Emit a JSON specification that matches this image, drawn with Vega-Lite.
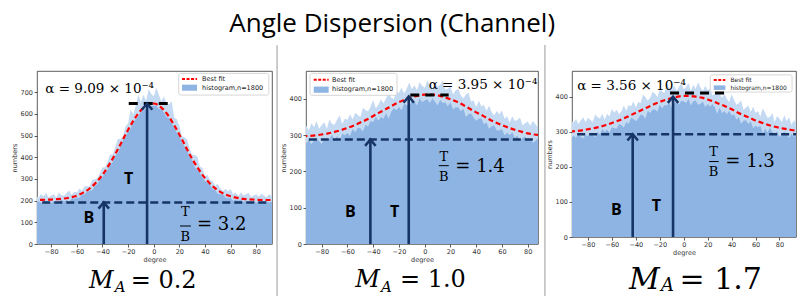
{
  "$schema": "https://vega.github.io/schema/vega-lite/v6.json",
  "background": "white",
  "padding": {"left": 10, "top": 11, "right": 0, "bottom": 0},
  "title": {"text": "Angle Dispersion (Channel)", "font": "Open Sans", "fontSize": 26, "fontWeight": "normal", "color": "black", "anchor": "middle", "offset": 7, "dx": -12},
  "spacing": 34,
  "bounds": "flush",
  "datasets": {
    "h1": [
      {"x":-94,"hi":217,"lo":195},{"x":-92,"hi":225,"lo":191},{"x":-90,"hi":212,"lo":197},{"x":-88,"hi":231,"lo":189},{"x":-86,"hi":220,"lo":195},
      {"x":-84,"hi":235,"lo":199},{"x":-82,"hi":215,"lo":193},{"x":-80,"hi":224,"lo":188},{"x":-78,"hi":230,"lo":198},{"x":-76,"hi":214,"lo":193},
      {"x":-74,"hi":236,"lo":197},{"x":-72,"hi":225,"lo":204},{"x":-70,"hi":223,"lo":196},{"x":-68,"hi":235,"lo":203},{"x":-66,"hi":247,"lo":195},
      {"x":-64,"hi":226,"lo":210},{"x":-62,"hi":241,"lo":209},{"x":-60,"hi":238,"lo":214},{"x":-58,"hi":256,"lo":212},{"x":-56,"hi":246,"lo":229},
      {"x":-54,"hi":266,"lo":228},{"x":-52,"hi":266,"lo":241},{"x":-50,"hi":265,"lo":246},{"x":-48,"hi":296,"lo":248},{"x":-46,"hi":297,"lo":269},
      {"x":-44,"hi":304,"lo":276},{"x":-42,"hi":327,"lo":298},{"x":-40,"hi":354,"lo":308},{"x":-38,"hi":353,"lo":332},{"x":-36,"hi":380,"lo":341},
      {"x":-34,"hi":413,"lo":364},{"x":-32,"hi":413,"lo":378},{"x":-30,"hi":448,"lo":408},{"x":-28,"hi":485,"lo":417},{"x":-26,"hi":483,"lo":449},
      {"x":-24,"hi":497,"lo":477},{"x":-22,"hi":543,"lo":493},{"x":-20,"hi":556,"lo":519},{"x":-18,"hi":620,"lo":532},{"x":-16,"hi":598,"lo":562},
      {"x":-14,"hi":639,"lo":576},{"x":-12,"hi":688,"lo":589},{"x":-10,"hi":655,"lo":610},{"x":-8,"hi":689,"lo":620},{"x":-6,"hi":660,"lo":621},
      {"x":-4,"hi":714,"lo":639},{"x":-2,"hi":693,"lo":635},{"x":0,"hi":680,"lo":638},{"x":2,"hi":722,"lo":636},{"x":4,"hi":688,"lo":623},
      {"x":6,"hi":657,"lo":623},{"x":8,"hi":682,"lo":605},{"x":10,"hi":643,"lo":585},{"x":12,"hi":645,"lo":580},{"x":14,"hi":658,"lo":557},
      {"x":16,"hi":583,"lo":539},{"x":18,"hi":575,"lo":513},{"x":20,"hi":545,"lo":500},{"x":22,"hi":497,"lo":466},{"x":24,"hi":492,"lo":449},
      {"x":26,"hi":482,"lo":429},{"x":28,"hi":441,"lo":402},{"x":30,"hi":411,"lo":387},{"x":32,"hi":411,"lo":354},{"x":34,"hi":404,"lo":343},
      {"x":36,"hi":358,"lo":329},{"x":38,"hi":351,"lo":307},{"x":40,"hi":313,"lo":289},{"x":42,"hi":318,"lo":281},{"x":44,"hi":295,"lo":272},
      {"x":46,"hi":290,"lo":252},{"x":48,"hi":269,"lo":248},{"x":50,"hi":277,"lo":231},{"x":52,"hi":256,"lo":230},{"x":54,"hi":245,"lo":228},
      {"x":56,"hi":254,"lo":215},{"x":58,"hi":243,"lo":212},{"x":60,"hi":252,"lo":213},{"x":62,"hi":230,"lo":200},{"x":64,"hi":237,"lo":205},
      {"x":66,"hi":221,"lo":199},{"x":68,"hi":237,"lo":205},{"x":70,"hi":225,"lo":194},{"x":72,"hi":229,"lo":199},{"x":74,"hi":236,"lo":188},
      {"x":76,"hi":217,"lo":195},{"x":78,"hi":224,"lo":198},{"x":80,"hi":229,"lo":191},{"x":82,"hi":219,"lo":195},{"x":84,"hi":232,"lo":189},
      {"x":86,"hi":224,"lo":192},{"x":88,"hi":216,"lo":197},{"x":90,"hi":229,"lo":191},{"x":92,"hi":221,"lo":195},{"x":94,"hi":227,"lo":189}
    ],
    "h2": [
      {"x":-94,"hi":317,"lo":284},{"x":-92,"hi":326,"lo":278},{"x":-90,"hi":313,"lo":288},{"x":-88,"hi":333,"lo":275},{"x":-86,"hi":322,"lo":285},
      {"x":-84,"hi":339,"lo":292},{"x":-82,"hi":318,"lo":283},{"x":-80,"hi":328,"lo":276},{"x":-78,"hi":336,"lo":292},{"x":-76,"hi":318,"lo":284},
      {"x":-74,"hi":343,"lo":290},{"x":-72,"hi":331,"lo":301},{"x":-70,"hi":329,"lo":287},{"x":-68,"hi":343,"lo":298},{"x":-66,"hi":354,"lo":284},
      {"x":-64,"hi":331,"lo":305},{"x":-62,"hi":346,"lo":300},{"x":-60,"hi":342,"lo":306},{"x":-58,"hi":358,"lo":298},{"x":-56,"hi":344,"lo":317},
      {"x":-54,"hi":362,"lo":309},{"x":-52,"hi":356,"lo":320},{"x":-50,"hi":350,"lo":319},{"x":-48,"hi":376,"lo":310},{"x":-46,"hi":369,"lo":329},
      {"x":-44,"hi":366,"lo":323},{"x":-42,"hi":379,"lo":339},{"x":-40,"hi":397,"lo":336},{"x":-38,"hi":374,"lo":350},{"x":-36,"hi":384,"lo":340},
      {"x":-34,"hi":399,"lo":350},{"x":-32,"hi":388,"lo":345},{"x":-30,"hi":401,"lo":361},{"x":-28,"hi":417,"lo":345},{"x":-26,"hi":403,"lo":364},
      {"x":-24,"hi":400,"lo":375},{"x":-22,"hi":420,"lo":369},{"x":-20,"hi":417,"lo":378},{"x":-18,"hi":431,"lo":369},{"x":-16,"hi":415,"lo":387},
      {"x":-14,"hi":428,"lo":383},{"x":-12,"hi":445,"lo":381},{"x":-10,"hi":427,"lo":394},{"x":-8,"hi":438,"lo":393},{"x":-6,"hi":424,"lo":382},
      {"x":-4,"hi":446,"lo":402},{"x":-2,"hi":436,"lo":391},{"x":0,"hi":431,"lo":396},{"x":2,"hi":451,"lo":399},{"x":4,"hi":439,"lo":389},
      {"x":6,"hi":429,"lo":402},{"x":8,"hi":445,"lo":392},{"x":10,"hi":433,"lo":382},{"x":12,"hi":439,"lo":397},{"x":14,"hi":451,"lo":389},
      {"x":16,"hi":425,"lo":390},{"x":18,"hi":428,"lo":380},{"x":20,"hi":434,"lo":391},{"x":22,"hi":412,"lo":371},{"x":24,"hi":423,"lo":377},
      {"x":26,"hi":428,"lo":377},{"x":28,"hi":410,"lo":366},{"x":30,"hi":401,"lo":373},{"x":32,"hi":412,"lo":350},{"x":34,"hi":417,"lo":358},
      {"x":36,"hi":393,"lo":360},{"x":38,"hi":396,"lo":348},{"x":40,"hi":378,"lo":340},{"x":42,"hi":395,"lo":345},{"x":44,"hi":380,"lo":347},
      {"x":46,"hi":383,"lo":330},{"x":48,"hi":367,"lo":335},{"x":50,"hi":381,"lo":318},{"x":52,"hi":363,"lo":325},{"x":54,"hi":354,"lo":327},
      {"x":56,"hi":367,"lo":313},{"x":58,"hi":358,"lo":313},{"x":60,"hi":368,"lo":317},{"x":62,"hi":345,"lo":300},{"x":64,"hi":352,"lo":307},
      {"x":66,"hi":335,"lo":300},{"x":68,"hi":352,"lo":308},{"x":70,"hi":339,"lo":293},{"x":72,"hi":342,"lo":299},{"x":74,"hi":349,"lo":283},
      {"x":76,"hi":327,"lo":293},{"x":78,"hi":333,"lo":296},{"x":80,"hi":338,"lo":285},{"x":82,"hi":326,"lo":290},{"x":84,"hi":339,"lo":279},
      {"x":86,"hi":330,"lo":284},{"x":88,"hi":320,"lo":291},{"x":90,"hi":334,"lo":281},{"x":92,"hi":324,"lo":286},{"x":94,"hi":330,"lo":276}
    ],
    "h3": [
      {"x":-94,"hi":332,"lo":279},{"x":-92,"hi":326,"lo":289},{"x":-90,"hi":336,"lo":283},{"x":-88,"hi":322,"lo":293},{"x":-86,"hi":332,"lo":286},
      {"x":-84,"hi":341,"lo":281},{"x":-82,"hi":327,"lo":291},{"x":-80,"hi":340,"lo":287},{"x":-78,"hi":334,"lo":297},{"x":-76,"hi":328,"lo":294},
      {"x":-74,"hi":349,"lo":283},{"x":-72,"hi":342,"lo":300},{"x":-70,"hi":338,"lo":292},{"x":-68,"hi":351,"lo":308},{"x":-66,"hi":334,"lo":299},
      {"x":-64,"hi":351,"lo":306},{"x":-62,"hi":343,"lo":297},{"x":-60,"hi":365,"lo":313},{"x":-58,"hi":354,"lo":310},{"x":-56,"hi":363,"lo":309},
      {"x":-54,"hi":350,"lo":322},{"x":-52,"hi":358,"lo":319},{"x":-50,"hi":375,"lo":312},{"x":-48,"hi":360,"lo":328},{"x":-46,"hi":376,"lo":322},
      {"x":-44,"hi":372,"lo":339},{"x":-42,"hi":386,"lo":336},{"x":-40,"hi":369,"lo":330},{"x":-38,"hi":385,"lo":338},{"x":-36,"hi":382,"lo":349},
      {"x":-34,"hi":405,"lo":346},{"x":-32,"hi":399,"lo":337},{"x":-30,"hi":388,"lo":360},{"x":-28,"hi":397,"lo":353},{"x":-26,"hi":414,"lo":363},
      {"x":-24,"hi":409,"lo":363},{"x":-22,"hi":398,"lo":357},{"x":-20,"hi":420,"lo":377},{"x":-18,"hi":414,"lo":366},{"x":-16,"hi":411,"lo":376},
      {"x":-14,"hi":437,"lo":375},{"x":-12,"hi":425,"lo":383},{"x":-10,"hi":419,"lo":368},{"x":-8,"hi":432,"lo":379},{"x":-6,"hi":416,"lo":389},
      {"x":-4,"hi":427,"lo":377},{"x":-2,"hi":440,"lo":388},{"x":0,"hi":421,"lo":386},{"x":2,"hi":427,"lo":382},{"x":4,"hi":438,"lo":394},
      {"x":6,"hi":417,"lo":375},{"x":8,"hi":433,"lo":387},{"x":10,"hi":422,"lo":389},{"x":12,"hi":442,"lo":377},{"x":14,"hi":426,"lo":380},
      {"x":16,"hi":415,"lo":386},{"x":18,"hi":431,"lo":370},{"x":20,"hi":418,"lo":379},{"x":22,"hi":423,"lo":371},{"x":24,"hi":404,"lo":379},
      {"x":26,"hi":408,"lo":369},{"x":28,"hi":423,"lo":351},{"x":30,"hi":409,"lo":368},{"x":32,"hi":396,"lo":353},{"x":34,"hi":408,"lo":359},
      {"x":36,"hi":394,"lo":350},{"x":38,"hi":384,"lo":360},{"x":40,"hi":407,"lo":346},{"x":42,"hi":391,"lo":350},{"x":44,"hi":377,"lo":335},
      {"x":46,"hi":381,"lo":341},{"x":48,"hi":389,"lo":323},{"x":50,"hi":362,"lo":331},{"x":52,"hi":369,"lo":333},{"x":54,"hi":375,"lo":322},
      {"x":56,"hi":356,"lo":330},{"x":58,"hi":371,"lo":310},{"x":60,"hi":354,"lo":318},{"x":62,"hi":358,"lo":312},{"x":64,"hi":343,"lo":317},
      {"x":66,"hi":366,"lo":295},{"x":68,"hi":354,"lo":309},{"x":70,"hi":340,"lo":298},{"x":72,"hi":342,"lo":311},{"x":74,"hi":353,"lo":300},
      {"x":76,"hi":328,"lo":294},{"x":78,"hi":345,"lo":301},{"x":80,"hi":337,"lo":285},{"x":82,"hi":327,"lo":292},{"x":84,"hi":347,"lo":300},
      {"x":86,"hi":330,"lo":293},{"x":88,"hi":341,"lo":282},{"x":90,"hi":320,"lo":295},{"x":92,"hi":333,"lo":285},{"x":94,"hi":323,"lo":290}
    ],
    "f1": [
      {"x":-95,"y":203},{"x":-90,"y":203},{"x":-85,"y":204},{"x":-80,"y":205},{"x":-75,"y":207},{"x":-70,"y":210},{"x":-65,"y":215},{"x":-60,"y":223},
      {"x":-55,"y":237},{"x":-50,"y":256},{"x":-45,"y":284},{"x":-40,"y":319},{"x":-35,"y":364},{"x":-30,"y":415},{"x":-25,"y":471},{"x":-20,"y":527},
      {"x":-15,"y":577},{"x":-10,"y":617},{"x":-5,"y":642},{"x":0,"y":648},{"x":5,"y":634},{"x":10,"y":603},{"x":15,"y":558},{"x":20,"y":505},
      {"x":25,"y":448},{"x":30,"y":393},{"x":35,"y":345},{"x":40,"y":304},{"x":45,"y":272},{"x":50,"y":248},{"x":55,"y":231},{"x":60,"y":220},
      {"x":65,"y":213},{"x":70,"y":208},{"x":75,"y":206},{"x":80,"y":204},{"x":85,"y":203},{"x":90,"y":203},{"x":95,"y":203}
    ],
    "f2": [
      {"x":-95,"y":297},{"x":-90,"y":298},{"x":-85,"y":299.5},{"x":-80,"y":302},{"x":-75,"y":305},{"x":-70,"y":309},{"x":-65,"y":314},{"x":-60,"y":320},
      {"x":-55,"y":327},{"x":-50,"y":335},{"x":-45,"y":343},{"x":-40,"y":353},{"x":-35,"y":363},{"x":-30,"y":372},{"x":-25,"y":382},{"x":-20,"y":391},
      {"x":-15,"y":399},{"x":-10,"y":405},{"x":-5,"y":409},{"x":0,"y":412},{"x":5,"y":412},{"x":10,"y":410},{"x":15,"y":405},{"x":20,"y":399},
      {"x":25,"y":392},{"x":30,"y":383},{"x":35,"y":373},{"x":40,"y":363},{"x":45,"y":354},{"x":50,"y":344},{"x":55,"y":335},{"x":60,"y":328},
      {"x":65,"y":321},{"x":70,"y":315},{"x":75,"y":310},{"x":80,"y":305},{"x":85,"y":302},{"x":90,"y":300},{"x":95,"y":298}
    ],
    "f3": [
      {"x":-95,"y":300.5},{"x":-90,"y":302},{"x":-85,"y":304},{"x":-80,"y":307},{"x":-75,"y":310},{"x":-70,"y":314},{"x":-65,"y":319},{"x":-60,"y":325},
      {"x":-55,"y":331},{"x":-50,"y":338},{"x":-45,"y":346},{"x":-40,"y":354},{"x":-35,"y":362},{"x":-30,"y":370},{"x":-25,"y":378},{"x":-20,"y":385},
      {"x":-15,"y":391},{"x":-10,"y":396},{"x":-5,"y":400},{"x":0,"y":402},{"x":5,"y":402},{"x":10,"y":400},{"x":15,"y":397},{"x":20,"y":392},
      {"x":25,"y":386},{"x":30,"y":379},{"x":35,"y":372},{"x":40,"y":364},{"x":45,"y":355},{"x":50,"y":347},{"x":55,"y":340},{"x":60,"y":332},
      {"x":65,"y":326},{"x":70,"y":320},{"x":75,"y":315},{"x":80,"y":311},{"x":85,"y":308},{"x":90,"y":305},{"x":95,"y":302.6}
    ]
  },
  "hconcat": [
    {
      "width": 235, "height": 173,
      "encoding": {
        "x": {"field": "x", "type": "quantitative", "title": "degree", "scale": {"domain": [-91.1, 92.3], "nice": false, "zero": false}, "axis": {"values": [-80,-60,-40,-20,0,20,40,60,80]}},
        "y": {"field": "y", "type": "quantitative", "title": "numbers", "scale": {"domain": [0, 798], "nice": false, "zero": false}, "axis": {"values": [0,100,200,300,400,500,600,700]}}
      },
      "layer": [
        {"data": {"name": "h1"}, "transform": [{"fold": ["hi", "lo"], "as": ["k", "y"]}, {"filter": "datum.k == 'hi'"}], "mark": {"type": "area", "color": "#c4d9f2", "clip": true}, "encoding": {}},
        {"data": {"name": "h1"}, "transform": [{"fold": ["hi", "lo"], "as": ["k", "y"]}, {"filter": "datum.k == 'lo'"}], "mark": {"type": "area", "color": "#8db4e2", "clip": true}, "encoding": {}},
        {"data": {"name": "f1"}, "mark": {"type": "line", "color": "#ff0000", "strokeDash": [5, 3], "strokeWidth": 2.2, "clip": true, "interpolate": "monotone"}, "encoding": {}},
        {"data": {"values": [{"x": -87, "x2": 88.4, "y": 192}]}, "mark": {"type": "rule", "color": "#173466", "strokeWidth": 2.5, "strokeDash": [8, 4]}, "encoding": {"x2": {"field": "x2"}}},
        {"data": {"values": [{"x": -19.5, "x2": 11.7, "y": 648}]}, "mark": {"type": "rule", "color": "black", "strokeWidth": 3, "strokeDash": [9, 6]}, "encoding": {"x2": {"field": "x2"}}},
        {"data": {"values": [{"x": -39, "y": 0, "y2": 190}, {"x": -5.2, "y": 0, "y2": 646}]}, "mark": {"type": "rule", "color": "#173466", "strokeWidth": 2.6}, "encoding": {"y2": {"field": "y2"}}},
        {"data": {"values": [{"x": -39, "y": 192}, {"x": -5.2, "y": 648}]}, "mark": {"type": "point", "shape": "M-1,1.2L0,0L1,1.2", "filled": false, "size": 110, "strokeWidth": 2.5, "color": "#173466", "opacity": 1}, "encoding": {}},
        {"data": {"values": [{"x": -19.6, "y": 302, "t": "T"}, {"x": -50.7, "y": 118, "t": "B"}]}, "mark": {"type": "text", "font": "Open Sans", "fontWeight": "bold", "fontSize": 16, "color": "black"}, "encoding": {"text": {"field": "t"}}},
        {"data": {"values": [{"x": -84.6, "y": 714, "t": "α = 9.09 × 10⁻⁴"}]}, "mark": {"type": "text", "font": "DejaVu Serif", "fontSize": 13.5, "align": "left", "color": "black"}, "encoding": {"text": {"field": "t"}}},
        {"data": {"values": [{"x": 24.7, "y": 149, "t": "T"}, {"x": 24.7, "y": 34, "t": "B"}]}, "mark": {"type": "text", "font": "DejaVu Serif", "fontSize": 13, "color": "black"}, "encoding": {"text": {"field": "t"}}},
        {"data": {"values": [{"x": 20.5, "x2": 29, "y": 83}]}, "mark": {"type": "rule", "color": "black", "strokeWidth": 1}, "encoding": {"x2": {"field": "x2"}}},
        {"data": {"values": [{"x": 33.8, "y": 87, "t": "= 3.2"}]}, "mark": {"type": "text", "font": "DejaVu Serif", "fontSize": 18, "align": "left", "color": "black"}, "encoding": {"text": {"field": "t"}}},
        {"data": {"values": [{"x": 19.5, "x2": 89.8, "y": 787, "y2": 687}]}, "mark": {"type": "rect", "fill": "white", "stroke": "#cccccc", "strokeWidth": 0.8, "cornerRadius": 2}, "encoding": {"x2": {"field": "x2"}, "y2": {"field": "y2"}}},
        {"data": {"values": [{"x": 22.1, "x2": 33.8, "y": 761}]}, "mark": {"type": "rule", "color": "#ff0000", "strokeWidth": 2, "strokeDash": [3, 1.5]}, "encoding": {"x2": {"field": "x2"}}},
        {"data": {"values": [{"x": 22.1, "x2": 33.8, "y": 735, "y2": 707}]}, "mark": {"type": "rect", "fill": "#8db4e2"}, "encoding": {"x2": {"field": "x2"}, "y2": {"field": "y2"}}},
        {"data": {"values": [{"x": 37.7, "y": 761, "t": "Best fit"}, {"x": 37.7, "y": 721, "t": "histogram,n=1800"}]}, "mark": {"type": "text", "font": "DejaVu Sans", "fontSize": 6.5, "align": "left", "color": "#222222"}, "encoding": {"text": {"field": "t"}}},
        {"data": {"values": [{"x": -50.5, "y": -203, "t": "M"}]}, "mark": {"type": "text", "font": "DejaVu Serif", "fontStyle": "italic", "fontSize": 24, "align": "left", "baseline": "alphabetic", "color": "black"}, "encoding": {"text": {"field": "t"}}},
        {"data": {"values": [{"x": -30.5, "y": -221, "t": "A"}]}, "mark": {"type": "text", "font": "DejaVu Serif", "fontStyle": "italic", "fontSize": 15, "align": "left", "baseline": "alphabetic", "color": "black"}, "encoding": {"text": {"field": "t"}}},
        {"data": {"values": [{"x": -18, "y": -203, "t": "= 0.2"}]}, "mark": {"type": "text", "font": "DejaVu Serif", "fontSize": 24, "align": "left", "baseline": "alphabetic", "color": "black"}, "encoding": {"text": {"field": "t"}}}
      ]
    },
    {
      "width": 232, "height": 173,
      "encoding": {
        "x": {"field": "x", "type": "quantitative", "title": "degree", "scale": {"domain": [-92.2, 88.0], "nice": false, "zero": false}, "axis": {"values": [-80,-60,-40,-20,0,20,40,60,80]}},
        "y": {"field": "y", "type": "quantitative", "title": "numbers", "scale": {"domain": [0, 477], "nice": false, "zero": false}, "axis": {"values": [0,100,200,300,400]}}
      },
      "layer": [
        {"data": {"name": "h2"}, "transform": [{"fold": ["hi", "lo"], "as": ["k", "y"]}, {"filter": "datum.k == 'hi'"}], "mark": {"type": "area", "color": "#c4d9f2", "clip": true}, "encoding": {}},
        {"data": {"name": "h2"}, "transform": [{"fold": ["hi", "lo"], "as": ["k", "y"]}, {"filter": "datum.k == 'lo'"}], "mark": {"type": "area", "color": "#8db4e2", "clip": true}, "encoding": {}},
        {"data": {"name": "f2"}, "mark": {"type": "line", "color": "#ff0000", "strokeDash": [5, 3], "strokeWidth": 2.2, "clip": true, "interpolate": "monotone"}, "encoding": {}},
        {"data": {"values": [{"x": -90, "x2": 84.7, "y": 288}]}, "mark": {"type": "rule", "color": "#173466", "strokeWidth": 2.5, "strokeDash": [8, 4]}, "encoding": {"x2": {"field": "x2"}}},
        {"data": {"values": [{"x": -11.2, "x2": 18.6, "y": 411}]}, "mark": {"type": "rule", "color": "black", "strokeWidth": 3, "strokeDash": [9, 6]}, "encoding": {"x2": {"field": "x2"}}},
        {"data": {"values": [{"x": -42.2, "y": 0, "y2": 286}, {"x": -12.4, "y": 0, "y2": 405}]}, "mark": {"type": "rule", "color": "#173466", "strokeWidth": 2.6}, "encoding": {"y2": {"field": "y2"}}},
        {"data": {"values": [{"x": -42.2, "y": 288}, {"x": -12.4, "y": 407}]}, "mark": {"type": "point", "shape": "M-1,1.2L0,0L1,1.2", "filled": false, "size": 110, "strokeWidth": 2.5, "color": "#173466", "opacity": 1}, "encoding": {}},
        {"data": {"values": [{"x": -23.3, "y": 87, "t": "T"}, {"x": -57.8, "y": 87, "t": "B"}]}, "mark": {"type": "text", "font": "Open Sans", "fontWeight": "bold", "fontSize": 16, "color": "black"}, "encoding": {"text": {"field": "t"}}},
        {"data": {"values": [{"x": 3.1, "y": 438, "t": "α = 3.95 × 10⁻⁴"}]}, "mark": {"type": "text", "font": "DejaVu Serif", "fontSize": 13.5, "align": "left", "color": "black"}, "encoding": {"text": {"field": "t"}}},
        {"data": {"values": [{"x": 14.8, "y": 239, "t": "T"}, {"x": 14.8, "y": 186, "t": "B"}]}, "mark": {"type": "text", "font": "DejaVu Serif", "fontSize": 13, "color": "black"}, "encoding": {"text": {"field": "t"}}},
        {"data": {"values": [{"x": 10.9, "x2": 18.7, "y": 216}]}, "mark": {"type": "rule", "color": "black", "strokeWidth": 1}, "encoding": {"x2": {"field": "x2"}}},
        {"data": {"values": [{"x": 23.8, "y": 212, "t": "= 1.4"}]}, "mark": {"type": "text", "font": "DejaVu Serif", "fontSize": 18, "align": "left", "color": "black"}, "encoding": {"text": {"field": "t"}}},
        {"data": {"values": [{"x": -89.1, "x2": -21.5, "y": 470.6, "y2": 410}]}, "mark": {"type": "rect", "fill": "white", "stroke": "#cccccc", "strokeWidth": 0.8, "cornerRadius": 2}, "encoding": {"x2": {"field": "x2"}, "y2": {"field": "y2"}}},
        {"data": {"values": [{"x": -86.2, "x2": -74.6, "y": 453}]}, "mark": {"type": "rule", "color": "#ff0000", "strokeWidth": 2, "strokeDash": [3, 1.5]}, "encoding": {"x2": {"field": "x2"}}},
        {"data": {"values": [{"x": -86.2, "x2": -74.6, "y": 434, "y2": 417}]}, "mark": {"type": "rect", "fill": "#8db4e2"}, "encoding": {"x2": {"field": "x2"}, "y2": {"field": "y2"}}},
        {"data": {"values": [{"x": -72, "y": 453, "t": "Best fit"}, {"x": -72, "y": 426, "t": "histogram,n=1800"}]}, "mark": {"type": "text", "font": "DejaVu Sans", "fontSize": 6.5, "align": "left", "color": "#222222"}, "encoding": {"text": {"field": "t"}}},
        {"data": {"values": [{"x": -53.9, "y": -119, "t": "M"}]}, "mark": {"type": "text", "font": "DejaVu Serif", "fontStyle": "italic", "fontSize": 24, "align": "left", "baseline": "alphabetic", "color": "black"}, "encoding": {"text": {"field": "t"}}},
        {"data": {"values": [{"x": -33.9, "y": -133, "t": "A"}]}, "mark": {"type": "text", "font": "DejaVu Serif", "fontStyle": "italic", "fontSize": 15, "align": "left", "baseline": "alphabetic", "color": "black"}, "encoding": {"text": {"field": "t"}}},
        {"data": {"values": [{"x": -19.2, "y": -119, "t": "= 1.0"}]}, "mark": {"type": "text", "font": "DejaVu Serif", "fontSize": 24, "align": "left", "baseline": "alphabetic", "color": "black"}, "encoding": {"text": {"field": "t"}}},
        {"data": {"values": [{"x": -114.7, "y": -160, "y2": 548}]}, "mark": {"type": "rule", "color": "#9a9a9a", "strokeWidth": 1}, "encoding": {"y2": {"field": "y2"}}}
      ]
    },
    {
      "width": 224, "height": 166,
      "encoding": {
        "x": {"field": "x", "type": "quantitative", "title": "degree", "scale": {"domain": [-93.3, 93.8], "nice": false, "zero": false}, "axis": {"values": [-80,-60,-40,-20,0,20,40,60,80]}},
        "y": {"field": "y", "type": "quantitative", "title": "numbers", "scale": {"domain": [0, 473], "nice": false, "zero": false}, "axis": {"values": [0,100,200,300,400]}}
      },
      "layer": [
        {"data": {"name": "h3"}, "transform": [{"fold": ["hi", "lo"], "as": ["k", "y"]}, {"filter": "datum.k == 'hi'"}], "mark": {"type": "area", "color": "#c4d9f2", "clip": true}, "encoding": {}},
        {"data": {"name": "h3"}, "transform": [{"fold": ["hi", "lo"], "as": ["k", "y"]}, {"filter": "datum.k == 'lo'"}], "mark": {"type": "area", "color": "#8db4e2", "clip": true}, "encoding": {}},
        {"data": {"name": "f3"}, "mark": {"type": "line", "color": "#ff0000", "strokeDash": [5, 3], "strokeWidth": 2.2, "clip": true, "interpolate": "monotone"}, "encoding": {}},
        {"data": {"values": [{"x": -89, "x2": 93.8, "y": 293}]}, "mark": {"type": "rule", "color": "#173466", "strokeWidth": 2.5, "strokeDash": [8, 4]}, "encoding": {"x2": {"field": "x2"}}},
        {"data": {"values": [{"x": -42.6, "y": 0, "y2": 291}, {"x": -8.9, "y": 0, "y2": 398}]}, "mark": {"type": "rule", "color": "#173466", "strokeWidth": 2.6}, "encoding": {"y2": {"field": "y2"}}},
        {"data": {"values": [{"x": -42.6, "y": 293}, {"x": -8.9, "y": 400}]}, "mark": {"type": "point", "shape": "M-1,1.2L0,0L1,1.2", "filled": false, "size": 110, "strokeWidth": 2.5, "color": "#173466", "opacity": 1}, "encoding": {}},
        {"data": {"values": [{"x": -22.9, "y": 87, "t": "T"}, {"x": -56.3, "y": 78, "t": "B"}]}, "mark": {"type": "text", "font": "Open Sans", "fontWeight": "bold", "fontSize": 16, "color": "black"}, "encoding": {"text": {"field": "t"}}},
        {"data": {"values": [{"x": -89, "y": 431, "t": "α = 3.56 × 10⁻⁴"}]}, "mark": {"type": "text", "font": "DejaVu Serif", "fontSize": 13.5, "align": "left", "color": "black"}, "encoding": {"text": {"field": "t"}}},
        {"data": {"values": [{"x": 25, "y": 242, "t": "T"}, {"x": 25, "y": 185, "t": "B"}]}, "mark": {"type": "text", "font": "DejaVu Serif", "fontSize": 13, "color": "black"}, "encoding": {"text": {"field": "t"}}},
        {"data": {"values": [{"x": 21.2, "x2": 29.2, "y": 215}]}, "mark": {"type": "rule", "color": "black", "strokeWidth": 1}, "encoding": {"x2": {"field": "x2"}}},
        {"data": {"values": [{"x": 34.8, "y": 213, "t": "= 1.3"}]}, "mark": {"type": "text", "font": "DejaVu Serif", "fontSize": 18, "align": "left", "color": "black"}, "encoding": {"text": {"field": "t"}}},
        {"data": {"values": [{"x": 22.2, "x2": 90.5, "y": 462, "y2": 413}]}, "mark": {"type": "rect", "fill": "white", "stroke": "#cccccc", "strokeWidth": 0.8, "cornerRadius": 2}, "encoding": {"x2": {"field": "x2"}, "y2": {"field": "y2"}}},
        {"data": {"values": [{"x": 25.1, "x2": 34.8, "y": 447.6}]}, "mark": {"type": "rule", "color": "#ff0000", "strokeWidth": 2, "strokeDash": [3, 1.5]}, "encoding": {"x2": {"field": "x2"}}},
        {"data": {"values": [{"x": 25.1, "x2": 34.8, "y": 432, "y2": 419}]}, "mark": {"type": "rect", "fill": "#8db4e2"}, "encoding": {"x2": {"field": "x2"}, "y2": {"field": "y2"}}},
        {"data": {"values": [{"x": 39, "y": 447, "t": "Best fit"}, {"x": 39, "y": 425, "t": "histogram,n=1800"}]}, "mark": {"type": "text", "font": "DejaVu Sans", "fontSize": 6, "align": "left", "color": "#222222"}, "encoding": {"text": {"field": "t"}}},
        {"data": {"values": [{"x": -11.4, "x2": 37.8, "y": 410}]}, "mark": {"type": "rule", "color": "black", "strokeWidth": 3, "strokeDash": [9, 6]}, "encoding": {"x2": {"field": "x2"}}},
        {"data": {"values": [{"x": -45.7, "y": -148, "t": "M"}]}, "mark": {"type": "text", "font": "DejaVu Serif", "fontStyle": "italic", "fontSize": 30, "align": "left", "baseline": "alphabetic", "color": "black"}, "encoding": {"text": {"field": "t"}}},
        {"data": {"values": [{"x": -19, "y": -154.5, "t": "A"}]}, "mark": {"type": "text", "font": "DejaVu Serif", "fontStyle": "italic", "fontSize": 18, "align": "left", "baseline": "alphabetic", "color": "black"}, "encoding": {"text": {"field": "t"}}},
        {"data": {"values": [{"x": -3.5, "y": -148, "t": "= 1.7"}]}, "mark": {"type": "text", "font": "DejaVu Serif", "fontSize": 30, "align": "left", "baseline": "alphabetic", "color": "black"}, "encoding": {"text": {"field": "t"}}},
        {"data": {"values": [{"x": -115.9, "y": -180, "y2": 547}]}, "mark": {"type": "rule", "color": "#9a9a9a", "strokeWidth": 1}, "encoding": {"y2": {"field": "y2"}}}
      ]
    }
  ],
  "config": {
    "view": {"stroke": "#333", "strokeWidth": 0.8},
    "axis": {"grid": false, "domain": false, "tickColor": "#333", "tickSize": 3, "tickWidth": 0.8, "labelFont": "DejaVu Sans", "labelFontSize": 6.5, "labelColor": "#333", "labelPadding": 1.5, "labelOverlap": false, "labelFlush": false, "titleFont": "DejaVu Sans", "titleFontSize": 6.5, "titleFontWeight": "normal", "titleColor": "#333"},
    "axisY": {"titlePadding": 3},
    "axisX": {"titlePadding": 1}
  }
}
